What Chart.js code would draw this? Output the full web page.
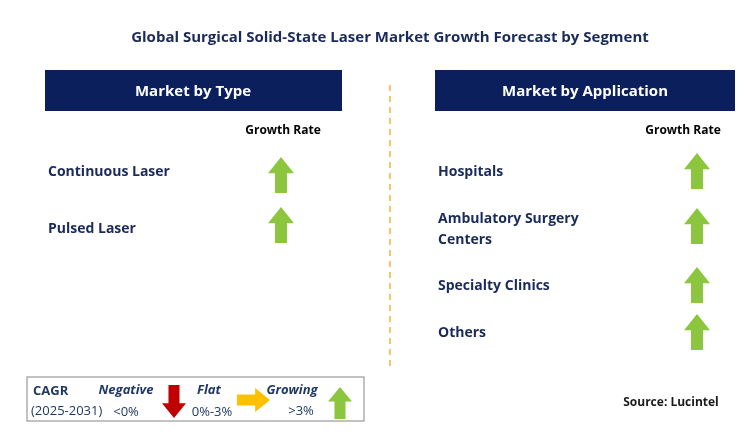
<!DOCTYPE html>
<html><head><meta charset="utf-8">
<script src="https://cdn.jsdelivr.net/npm/chart.js@4"></script>
<style>html,body{margin:0;padding:0;background:#fff}</style>
</head><body>
<canvas id="c" width="744" height="436"></canvas>
<script>
const title = "Global Surgical Solid-State Laser Market Growth Forecast by Segment";
const typeHeader = "Market by Type";
const appHeader = "Market by Application";
const typeSegments = [["Continuous Laser"], ["Pulsed Laser"]];
const typeGrowth = ["up", "up"];
const appSegments = [["Hospitals"], ["Ambulatory Surgery", "Centers"], ["Specialty Clinics"], ["Others"]];
const appGrowth = ["up", "up", "up", "up"];
const typeRowY = [175, 225];
const appRowY = [171, 226, 285, 332];
const typeLabelY = [171, 228];
const appLabelY = [171, 229, 285, 332];
const source = "Source: Lucintel";

const NAVY = "#0b1f5c", GREEN = "#8cc63f", TXT = "#1a2a5a";
function upArrow(ctx, cx, top, w, h, color) {
  const sw = w * 0.46, hh = h * 0.45;
  ctx.fillStyle = color; ctx.beginPath();
  ctx.moveTo(cx, top); ctx.lineTo(cx + w/2, top + hh); ctx.lineTo(cx + sw/2, top + hh);
  ctx.lineTo(cx + sw/2, top + h); ctx.lineTo(cx - sw/2, top + h); ctx.lineTo(cx - sw/2, top + hh);
  ctx.lineTo(cx - w/2, top + hh); ctx.closePath(); ctx.fill();
}
const arrowImg = document.createElement("canvas");
arrowImg.width = 26; arrowImg.height = 36;
upArrow(arrowImg.getContext("2d"), 13, 0, 26, 36, GREEN);

const pts = [];
typeGrowth.forEach((g, i) => pts.push({x: 281, y: typeRowY[i]}));
appGrowth.forEach((g, i) => pts.push({x: 697, y: appRowY[i]}));

const deco = {
  id: "deco",
  beforeDatasetsDraw(chart) {
    const c = chart.ctx; c.save();
    c.textBaseline = "middle";
    c.fillStyle = TXT; c.font = "bold 15px 'Open Sans', Arial"; c.textAlign = "center";
    c.fillText(title, 390, 38);
    c.fillStyle = NAVY; c.fillRect(45, 70, 297, 41); c.fillRect(435, 70, 300, 41);
    c.fillStyle = "#fff"; c.font = "bold 15px 'Open Sans', Arial";
    c.fillText(typeHeader, 193, 92); c.fillText(appHeader, 585, 92);
    c.fillStyle = "#000"; c.font = "bold 12px 'Open Sans', Arial";
    c.fillText("Growth Rate", 283, 131); c.fillText("Growth Rate", 683, 131);
    c.strokeStyle = "#f5b335"; c.lineWidth = 1.5; c.setLineDash([6, 5]);
    c.beginPath(); c.moveTo(390, 85); c.lineTo(390, 370); c.stroke(); c.setLineDash([]);
    c.fillStyle = TXT; c.textAlign = "left"; c.font = "bold 14px 'Open Sans', Arial";
    typeSegments.forEach((l, i) => l.forEach((s, j) => c.fillText(s, 48, typeLabelY[i] + 1 - (l.length-1)*10.5 + j*21)));
    appSegments.forEach((l, i) => l.forEach((s, j) => c.fillText(s, 438, appLabelY[i] + 1 - (l.length-1)*10.5 + j*21)));
    // legend
    c.strokeStyle = "#999"; c.lineWidth = 1.2; c.strokeRect(27, 377, 337, 44);
    c.fillStyle = "#1f3864"; c.font = "bold 13px 'Open Sans', Arial";
    c.fillText("CAGR", 33, 391);
    c.font = "13px 'Open Sans', Arial"; c.fillText("(2025-2031)", 31, 411);
    c.font = "italic bold 13px 'Open Sans', Arial"; c.textAlign = "center";
    c.fillText("Negative", 126, 390); c.fillText("Flat", 209, 390); c.fillText("Growing", 292, 390);
    c.font = "13px 'Open Sans', Arial";
    c.fillText("<0%", 126, 412); c.fillText("0%-3%", 212, 412); c.fillText(">3%", 301, 411);
    c.save(); c.translate(174, 418); c.rotate(Math.PI); upArrow(c, 0, 0, 24, 33, "#c00000"); c.restore();
    c.save(); c.translate(270, 400); c.rotate(Math.PI/2); upArrow(c, 0, 0, 24, 33, "#ffc000"); c.restore();
    upArrow(c, 340, 387, 24, 32, GREEN);
    c.fillStyle = "#1a1a1a"; c.font = "bold 12px 'Open Sans', Arial";
    c.fillText(source, 671, 403);
    c.restore();
  }
};

new Chart(document.getElementById("c"), {
  type: "scatter",
  data: { datasets: [{ data: pts, pointStyle: arrowImg, pointRadius: 13 }] },
  options: {
    responsive: false, animation: false, layout: { padding: 0, autoPadding: false },
    plugins: { legend: { display: false }, tooltip: { enabled: false } },
    scales: {
      x: { type: "linear", min: 0, max: 744, display: false },
      y: { type: "linear", min: 0, max: 436, reverse: true, display: false }
    }
  },
  plugins: [deco]
});
</script>
</body></html>
